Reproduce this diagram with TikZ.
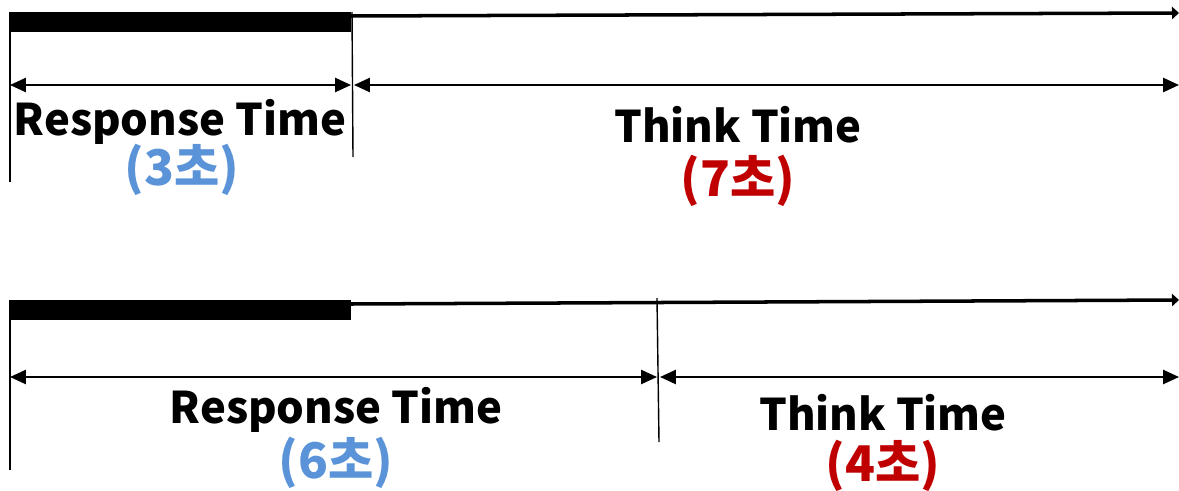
\documentclass[tikz,border=0pt]{standalone}
\usepackage{fontspec}
\newfontfamily\krfont{Noto Sans CJK KR}
\usetikzlibrary{arrows.meta}
\definecolor{rtblue}{HTML}{5B93D8}
\definecolor{ttred}{HTML}{C00000}
\tikzset{
  busy/.style={fill=black},
  timeline/.style={line width=2pt,-{Triangle[length=4pt,width=7pt]}},
  tick/.style={line width=0.8pt},
  span/.style={line width=1.1pt,{Triangle[length=9pt,width=8pt]}-{Triangle[length=9pt,width=8pt]}},
  lbl/.style={font=\krfont\bfseries\fontsize{24.8}{28}\selectfont,inner sep=0pt},
  secs/.style={font=\krfont\bfseries\fontsize{28}{32}\selectfont,inner sep=0pt},
}
\begin{document}
\begin{tikzpicture}[x=0.02cm,y=-0.02cm]
\useasboundingbox (0,0) rectangle (1179,490);
% first case: 3 s response, 7 s think
\fill[busy] (10,12) rectangle (351,32);
\coordinate (a0) at (351,16);
\coordinate (a1) at (1179,13);
\draw[timeline] (a0) -- (a1);
\coordinate (at0) at (10,12);
\coordinate (ab0) at (10,182);
\coordinate (at1) at (352,12);
\coordinate (ab1) at (353,157);
\draw[tick] (at0) -- (ab0);
\draw[tick] (at1) -- (ab1);
\coordinate (as0) at (10,85);
\coordinate (as1) at (351,85);
\coordinate (as2) at (354,85);
\coordinate (as3) at (1179,85);
\draw[span] (as0) -- (as1);
\draw[span] (as2) -- (as3);
\node[lbl] (resp1) at (180,122) {Response Time};
\node[secs,text=rtblue] (sec3) at (182,170) {(3초)};
\node[lbl] (think1) at (738,125) {Think Time};
\node[secs,text=ttred] (sec7) at (738,181) {(7초)};
% second case: 6 s response, 4 s think
\fill[busy] (10,300) rectangle (351,320);
\coordinate (b0) at (351,304);
\coordinate (b1) at (1179,300);
\draw[timeline] (b0) -- (b1);
\coordinate (bt0) at (10,300);
\coordinate (bb0) at (10,470);
\coordinate (bt1) at (657,298);
\coordinate (bb1) at (659,442);
\draw[tick] (bt0) -- (bb0);
\draw[tick] (bt1) -- (bb1);
\coordinate (bs0) at (10,377);
\coordinate (bs1) at (657,377);
\coordinate (bs2) at (660,377);
\coordinate (bs3) at (1179,377);
\draw[span] (bs0) -- (bs1);
\draw[span] (bs2) -- (bs3);
\node[lbl] (resp2) at (336,410) {Response Time};
\node[secs,text=rtblue] (sec6) at (336,463) {(6초)};
\node[lbl] (think2) at (883,413) {Think Time};
\node[secs,text=ttred] (sec4) at (883,466) {(4초)};
\end{tikzpicture}
\end{document}
